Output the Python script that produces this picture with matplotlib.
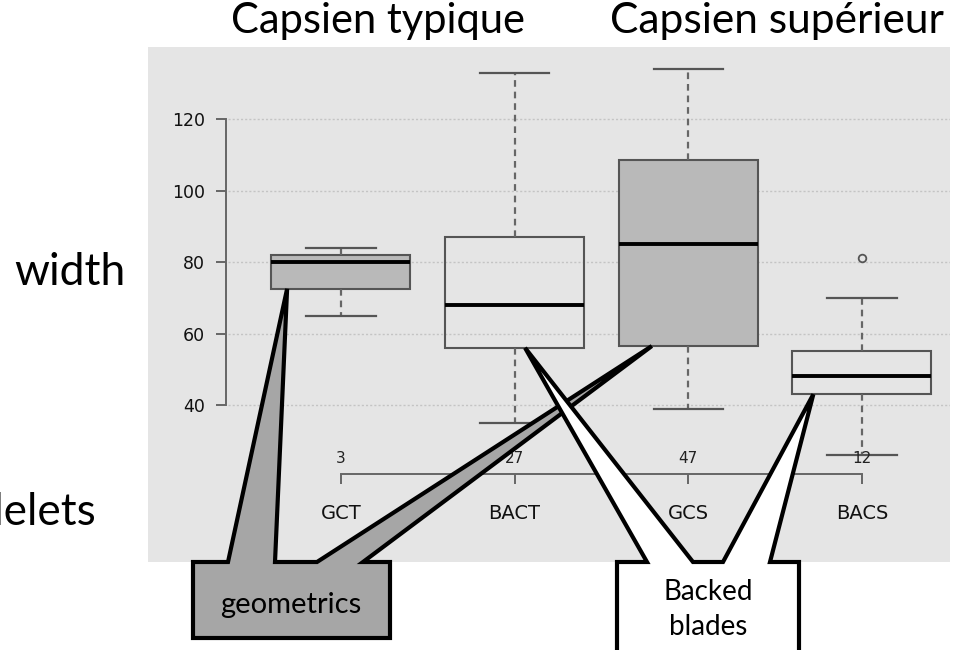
import matplotlib
matplotlib.use("Agg")
import matplotlib.pyplot as plt
from matplotlib.patches import Polygon

# data
groups = ["GCT", "BACT", "GCS", "BACS"]
counts = [3, 27, 47, 12]
whislo = [65, 35, 39, 26]
q1 = [72.5, 56, 56.5, 43]
med = [80, 68, 85, 48]
q3 = [82, 87, 108.5, 55]
whishi = [84, 133, 134, 70]
fliers = [[], [], [], [81]]
yticks = [40, 60, 80, 100, 120]
kind = ["geo", "back", "geo", "back"]

W, H = 959, 650
fig = plt.figure(figsize=(W / 100, H / 100), dpi=100)
fig.patch.set_facecolor("white")

# grey panel with the boxplot (pixel box of the pasted R figure)
pl, pt, pr, pb = 148, 47, 950, 562
ax = fig.add_axes([pl / W, (H - pb) / H, (pr - pl) / W, (pb - pt) / H])
ax.set_facecolor("#e5e5e5")
ax.set_xlim(-0.111, 4.507)
ax.set_ylim(-3.9, 140.14)

pos = [1, 2, 3, 4]
stats = []
for i, g in enumerate(groups):
    stats.append(dict(label=g, whislo=whislo[i], q1=q1[i], med=med[i],
                      q3=q3[i], whishi=whishi[i], fliers=fliers[i]))

bp = ax.bxp(stats, positions=pos, widths=0.8, patch_artist=True,
            showfliers=True,
            boxprops=dict(edgecolor="#555555", linewidth=1.5),
            whiskerprops=dict(color="#666666", linewidth=1.6, linestyle=(0, (3, 2.2))),
            capprops=dict(color="#555555", linewidth=1.6),
            medianprops=dict(color="black", linewidth=2.8),
            flierprops=dict(marker="o", markerfacecolor="none", markeredgecolor="#555555",
                            markersize=5.5, markeredgewidth=1.3))
for patch, k in zip(bp["boxes"], kind):
    patch.set_facecolor("#b9b9b9" if k == "geo" else "none")
    patch.set_zorder(2)

spine_x = 0.338
axis_y = 20.7
ax.hlines(yticks, spine_x + 0.01, ax.get_xlim()[1], colors="#c4c4c4",
          linestyles=(0, (1.5, 1.5)), linewidth=1.0, zorder=1)

for s in ["top", "right"]:
    ax.spines[s].set_visible(False)
ax.spines["left"].set_position(("data", spine_x))
ax.spines["left"].set_bounds(40, 120)
ax.spines["bottom"].set_position(("data", axis_y))
ax.spines["bottom"].set_bounds(1, 4)
for s in ["left", "bottom"]:
    ax.spines[s].set_color("#666666")
    ax.spines[s].set_linewidth(1.4)
ax.set_yticks(yticks)
ax.set_yticklabels([str(v) for v in yticks])
ax.set_xticks(pos)
ax.set_xticklabels(groups)
ax.tick_params(axis="y", length=7.4, width=1.4, color="#666666", pad=7.5,
               labelsize=12.5, labelcolor="#111111")
ax.tick_params(axis="x", length=7.2, width=1.4, color="#666666", pad=14.5,
               labelsize=14, labelcolor="#111111")

for p, n in zip(pos, counts):
    ax.annotate(str(n), xy=(p, axis_y), xytext=(0, 5.5), textcoords="offset points",
                ha="center", va="bottom", fontsize=11, color="#222222")

# overlay in pixel coordinates for the slide text and callouts
ov = fig.add_axes([0, 0, 1, 1], zorder=5)
ov.set_xlim(0, W)
ov.set_ylim(H, 0)
ov.axis("off")


def px(x, y):
    dx, dy = ax.transData.transform((x, y))
    return dx, H - dy


slide_font = "Lato"
ov.text(378, 33, "Capsien typique", ha="center", va="baseline", fontsize=30, family=slide_font)
ov.text(777, 33, "Capsien supérieur", ha="center", va="baseline", fontsize=30.6, family=slide_font)
ov.text(126, 285, "width", ha="right", va="baseline", fontsize=32, family=slide_font)
ov.text(97, 525, "bladelets", ha="right", va="baseline", fontsize=31.8, family=slide_font)

# geometrics callout: points to GCT and GCS boxes
t1 = px(pos[0] - 0.31, q1[0])
t2 = px(pos[2] - 0.21, q1[2])
geo = [(193, 562), (228, 562), t1, (275, 562), (317, 562), t2, (363, 562),
       (390, 562), (390, 638), (193, 638)]
ov.add_patch(Polygon(geo, closed=True, facecolor="#a6a6a6", edgecolor="black",
                     linewidth=3, joinstyle="miter"))
ov.text(291, 613, "geometrics", ha="center", va="baseline", fontsize=21, family=slide_font)

# backed blades callout: points to BACT and BACS boxes
t3 = px(pos[1] + 0.06, q1[1])
t4 = px(pos[3] - 0.28, q1[3])
back = [(617, 562), (647, 562), t3, (693, 562), (723, 562), t4, (770, 562),
        (799, 562), (799, 668), (617, 668)]
ov.add_patch(Polygon(back, closed=True, facecolor="white", edgecolor="black",
                     linewidth=3, joinstyle="miter"))
ov.text(708, 600, "Backed", ha="center", va="baseline", fontsize=20, family=slide_font)
ov.text(708, 635, "blades", ha="center", va="baseline", fontsize=20, family=slide_font)

fig.savefig("out.png", dpi=100)
